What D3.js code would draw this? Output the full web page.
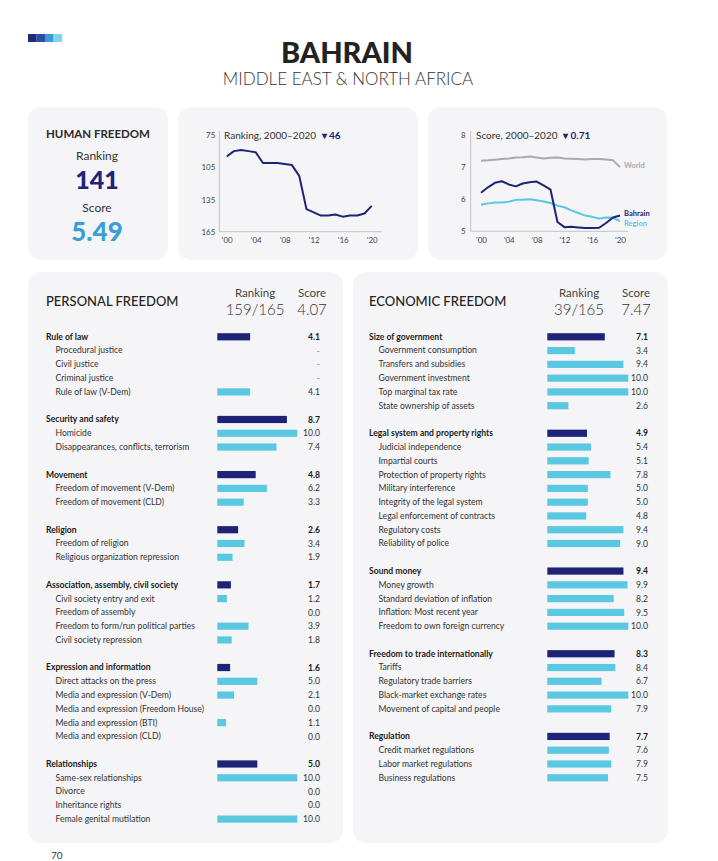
<!DOCTYPE html>
<html>
<head>
<meta charset="utf-8">
<script src="https://cdn.jsdelivr.net/npm/d3@7"></script>
<style>
body{margin:0;background:#fff;}
text{font-family:Lato,"Open Sans",sans-serif;}
</style>
</head>
<body>
<script>

// ---- data ----
var country = "BAHRAIN";
var region = "MIDDLE EAST & NORTH AFRICA";
var hfRanking = 141;
var hfScore = 5.49;

var years = [2000,2001,2002,2003,2004,2005,2006,2007,2008,2009,2010,2011,2012,2013,2014,2015,2016,2017,2018,2019,2020];
var rankValues = [95,90,89,90,91,101,101,101,102,103,113,144,147,150,150,149,151,150,150,148,141];
var bahrainScores = [6.20,6.37,6.51,6.56,6.46,6.40,6.49,6.53,6.55,6.43,6.30,5.29,5.13,5.14,5.12,5.10,5.10,5.11,5.26,5.43,5.49];
var worldScores = [7.20,7.21,7.23,7.25,7.27,7.30,7.31,7.33,7.30,7.27,7.29,7.30,7.27,7.26,7.25,7.24,7.25,7.25,7.24,7.21,7.00];
var regionScores = [5.83,5.87,5.90,5.90,5.92,5.98,5.98,6.00,5.97,5.93,5.88,5.80,5.75,5.65,5.57,5.49,5.45,5.40,5.43,5.42,5.32];
var rankTicks = [75,105,135,165];
var scoreTicks = [5,6,7,8];
var yearTicks = [2000,2004,2008,2012,2016,2020];

var pfRanking = "159/165", pfScore = "4.07";
var pfGroups = ["Rule of law","Security and safety","Movement","Religion","Association, assembly, civil society","Expression and information","Relationships"];
var pfGroupScores = [4.1,8.7,4.8,2.6,1.7,1.6,5.0];
var pfItems = [
  ["Procedural justice","Civil justice","Criminal justice","Rule of law (V-Dem)"],
  ["Homicide","Disappearances, conflicts, terrorism"],
  ["Freedom of movement (V-Dem)","Freedom of movement (CLD)"],
  ["Freedom of religion","Religious organization repression"],
  ["Civil society entry and exit","Freedom of assembly","Freedom to form/run political parties","Civil society repression"],
  ["Direct attacks on the press","Media and expression (V-Dem)","Media and expression (Freedom House)","Media and expression (BTI)","Media and expression (CLD)"],
  ["Same-sex relationships","Divorce","Inheritance rights","Female genital mutilation"]
];
var pfItemScores = [
  [null,null,null,4.1],
  [10.0,7.4],
  [6.2,3.3],
  [3.4,1.9],
  [1.2,0.0,3.9,1.8],
  [5.0,2.1,0.0,1.1,0.0],
  [10.0,0.0,0.0,10.0]
];

var efRanking = "39/165", efScore = "7.47";
var efGroups = ["Size of government","Legal system and property rights","Sound money","Freedom to trade internationally","Regulation"];
var efGroupScores = [7.1,4.9,9.4,8.3,7.7];
var efItems = [
  ["Government consumption","Transfers and subsidies","Government investment","Top marginal tax rate","State ownership of assets"],
  ["Judicial independence","Impartial courts","Protection of property rights","Military interference","Integrity of the legal system","Legal enforcement of contracts","Regulatory costs","Reliability of police"],
  ["Money growth","Standard deviation of inflation","Inflation: Most recent year","Freedom to own foreign currency"],
  ["Tariffs","Regulatory trade barriers","Black-market exchange rates","Movement of capital and people"],
  ["Credit market regulations","Labor market regulations","Business regulations"]
];
var efItemScores = [
  [3.4,9.4,10.0,10.0,2.6],
  [5.4,5.1,7.8,5.0,5.0,4.8,9.4,9.0],
  [9.9,8.2,9.5,10.0],
  [8.4,6.7,10.0,7.9],
  [7.6,7.9,7.5]
];

// ---- setup ----
var width = 718, height = 861;
var navy = "#1f2377", cyan = "#5ac8e1", panelFill = "#f5f5f7";

var svg = d3.select("body").append("svg")
  .attr("width", width)
  .attr("height", height);

// logo squares
var logoColors = ["#1d2a7a","#2b4ea8","#3a9ad6","#80d5ea"];
svg.selectAll(".logo").data(logoColors).enter().append("rect")
  .attr("x", function(d,i){ return 28 + i*8.5; })
  .attr("y", 34).attr("width", 8.6).attr("height", 8)
  .attr("fill", function(d){ return d; });

// title
svg.append("text").attr("x", 347).attr("y", 63).attr("text-anchor","middle")
  .attr("font-size", 29).attr("font-weight", 900).attr("fill", "#222").text(country);
svg.append("text").attr("x", 348).attr("y", 85).attr("text-anchor","middle")
  .attr("font-size", 17).attr("font-weight", 300).attr("fill", "#333").text(region);

// panels
var panels = [[28,107,140,153],[178,107,240,153],[428,107,239,153],[28,272,315,571],[353,272,315,571]];
svg.selectAll(".panel").data(panels).enter().append("rect")
  .attr("x", function(d){ return d[0]; }).attr("y", function(d){ return d[1]; })
  .attr("width", function(d){ return d[2]; }).attr("height", function(d){ return d[3]; })
  .attr("rx", 13).attr("fill", panelFill);

// human freedom box
svg.append("text").attr("x", 46).attr("y", 138).attr("font-size", 11.5).attr("font-weight", 700)
  .attr("fill", "#2a2a2a").text("HUMAN FREEDOM");
svg.append("text").attr("x", 97).attr("y", 160).attr("text-anchor","middle").attr("font-size", 12)
  .attr("fill", "#333").text("Ranking");
svg.append("text").attr("x", 97).attr("y", 189).attr("text-anchor","middle").attr("font-size", 25)
  .attr("font-weight", 900).attr("fill", navy).text(hfRanking);
svg.append("text").attr("x", 97).attr("y", 212).attr("text-anchor","middle").attr("font-size", 12)
  .attr("fill", "#333").text("Score");
svg.append("text").attr("x", 97).attr("y", 241).attr("text-anchor","middle").attr("font-size", 26)
  .attr("font-weight", 900).attr("fill", "#3a9fd6").text(hfScore.toFixed(2));

// ---- ranking line chart ----
var xRank = d3.scaleLinear().domain([2000, 2020]).range([226.7, 371.7]);
var yRank = d3.scaleLinear().domain([75, 165]).range([135, 231.7]);

var gr = svg.append("g");
gr.append("line").attr("x1", 219.3).attr("x2", 219.3).attr("y1", 131).attr("y2", yRank(165))
  .attr("stroke", "#c4c4c4");
gr.append("line").attr("x1", 219.3).attr("x2", 381.7).attr("y1", yRank(165)).attr("y2", yRank(165))
  .attr("stroke", "#c4c4c4");

var rankYAxis = d3.axisLeft(yRank).tickValues(rankTicks).tickSize(0).tickPadding(4);
gr.append("g").attr("transform", "translate(219.3,0)").call(rankYAxis)
  .call(function(g){ g.select(".domain").remove(); })
  .selectAll("text").attr("font-size", 8).attr("fill", "#444").attr("font-family", "Lato");

var rankXAxis = d3.axisBottom(xRank).tickValues(yearTicks).tickSize(0).tickPadding(6)
  .tickFormat(function(d){ return "'" + String(d).slice(2); });
gr.append("g").attr("transform", "translate(0," + yRank(165) + ")").call(rankXAxis)
  .call(function(g){ g.select(".domain").remove(); })
  .selectAll("text").attr("font-size", 8).attr("fill", "#444").attr("font-family", "Lato");

gr.append("path").datum(rankValues)
  .attr("fill", "none").attr("stroke", navy).attr("stroke-width", 2).attr("stroke-linejoin","round")
  .attr("d", d3.line().x(function(d,i){ return xRank(years[i]); }).y(function(d){ return yRank(d); }));

var rt = gr.append("text").attr("x", 224).attr("y", 139).attr("font-size", 10).attr("fill", "#333");
rt.append("tspan").text("Ranking, 2000–2020 ");
rt.append("tspan").attr("fill", navy).attr("font-weight", 700).attr("dx", 3)
  .text("▾ " + (rankValues[rankValues.length-1] - rankValues[0]));

// ---- score line chart ----
var xScore = d3.scaleLinear().domain([2000, 2020]).range([481, 620]);
var yScore = d3.scaleLinear().domain([5, 8]).range([231.3, 135]);

var gs = svg.append("g");
gs.append("line").attr("x1", 470.7).attr("x2", 470.7).attr("y1", 131).attr("y2", yScore(5))
  .attr("stroke", "#c4c4c4");
gs.append("line").attr("x1", 470.7).attr("x2", 628).attr("y1", yScore(5)).attr("y2", yScore(5))
  .attr("stroke", "#c4c4c4");

var scoreYAxis = d3.axisLeft(yScore).tickValues(scoreTicks).tickSize(0).tickPadding(5)
  .tickFormat(d3.format("d"));
gs.append("g").attr("transform", "translate(470.7,0)").call(scoreYAxis)
  .call(function(g){ g.select(".domain").remove(); })
  .selectAll("text").attr("font-size", 8).attr("fill", "#444").attr("font-family", "Lato");

var scoreXAxis = d3.axisBottom(xScore).tickValues(yearTicks).tickSize(0).tickPadding(6)
  .tickFormat(function(d){ return "'" + String(d).slice(2); });
gs.append("g").attr("transform", "translate(0," + yScore(5) + ")").call(scoreXAxis)
  .call(function(g){ g.select(".domain").remove(); })
  .selectAll("text").attr("font-size", 8).attr("fill", "#444").attr("font-family", "Lato");

var scoreLine = d3.line().x(function(d,i){ return xScore(years[i]); }).y(function(d){ return yScore(d); });
var series = [[worldScores, "#aaaaaa"], [regionScores, cyan], [bahrainScores, navy]];
gs.selectAll(".sline").data(series).enter().append("path")
  .attr("fill", "none").attr("stroke-width", 2).attr("stroke-linejoin","round")
  .attr("stroke", function(d){ return d[1]; })
  .attr("d", function(d){ return scoreLine(d[0]); });

gs.append("text").attr("x", 624).attr("y", 168).attr("font-size", 7.5).attr("font-weight", 700)
  .attr("fill", "#aaaaaa").text("World");
gs.append("text").attr("x", 624).attr("y", 216).attr("font-size", 7.5).attr("font-weight", 700)
  .attr("fill", navy).text("Bahrain");
gs.append("text").attr("x", 624).attr("y", 225.5).attr("font-size", 7.5).attr("font-weight", 700)
  .attr("fill", cyan).text("Region");

var st = gs.append("text").attr("x", 476).attr("y", 139).attr("font-size", 10).attr("fill", "#333");
st.append("tspan").text("Score, 2000–2020 ");
st.append("tspan").attr("fill", navy).attr("font-weight", 700).attr("dx", 3)
  .text("▾ " + (bahrainScores[0] - bahrainScores[bahrainScores.length-1]).toFixed(2));

// ---- bar panels ----
function drawPanel(opt) {
  var rows = [];
  opt.groups.forEach(function(name, i){
    if (i > 0) rows.push(null);
    rows.push({label: name, value: opt.groupScores[i], group: true});
    opt.items[i].forEach(function(it, j){
      rows.push({label: it, value: opt.itemScores[i][j], group: false});
    });
  });

  var yRow = d3.scaleLinear().domain([0, 1]).range([336.7, 336.7 + 13.78]);
  var xBar = d3.scaleLinear().domain([0, 10]).range([opt.barX, opt.barX + opt.barW]);

  var g = svg.append("g");

  g.append("text").attr("x", opt.labelX).attr("y", 306).attr("font-size", 13).attr("fill", "#222")
    .attr("font-weight", 500).text(opt.title);
  g.append("text").attr("x", opt.rankX).attr("y", 297).attr("text-anchor","middle").attr("font-size", 11.5)
    .attr("fill", "#444").text("Ranking");
  g.append("text").attr("x", opt.rankX).attr("y", 315).attr("text-anchor","middle").attr("font-size", 15)
    .attr("font-weight", 300).attr("fill", "#333").text(opt.ranking);
  g.append("text").attr("x", opt.scoreX).attr("y", 297).attr("text-anchor","middle").attr("font-size", 11.5)
    .attr("fill", "#444").text("Score");
  g.append("text").attr("x", opt.scoreX).attr("y", 315).attr("text-anchor","middle").attr("font-size", 15)
    .attr("font-weight", 300).attr("fill", "#333").text(opt.score);

  var row = g.selectAll(".row").data(rows).enter()
    .filter(function(d){ return d !== null; })
    .append("g")
    .attr("transform", function(d){ return "translate(0," + yRow(rows.indexOf(d)) + ")"; });

  row.append("text")
    .attr("x", function(d){ return d.group ? opt.labelX : opt.labelX + 9.5; })
    .attr("y", 3)
    .attr("font-size", 8.6)
    .attr("font-weight", function(d){ return d.group ? 700 : 400; })
    .attr("fill", function(d){ return d.group ? "#1a1a1a" : "#333"; })
    .text(function(d){ return d.label; });

  row.filter(function(d){ return d.value !== null && d.value > 0; }).append("rect")
    .attr("x", xBar(0))
    .attr("y", -3.5)
    .attr("width", function(d){ return xBar(d.value) - xBar(0); })
    .attr("height", 7.2)
    .attr("fill", function(d){ return d.group ? navy : cyan; });

  row.append("text")
    .attr("x", opt.valueX)
    .attr("y", 3.2)
    .attr("text-anchor", "end")
    .attr("font-size", 8.6)
    .attr("font-weight", function(d){ return d.group ? 700 : 400; })
    .attr("fill", function(d){ return d.value === null ? "#888" : (d.group ? "#1a1a1a" : "#333"); })
    .text(function(d){ return d.value === null ? "-" : d.value.toFixed(1); });
}

drawPanel({title: "PERSONAL FREEDOM", ranking: pfRanking, score: pfScore,
  groups: pfGroups, groupScores: pfGroupScores, items: pfItems, itemScores: pfItemScores,
  labelX: 46, barX: 217.3, barW: 80, valueX: 320, rankX: 255, scoreX: 312});

drawPanel({title: "ECONOMIC FREEDOM", ranking: efRanking, score: efScore,
  groups: efGroups, groupScores: efGroupScores, items: efItems, itemScores: efItemScores,
  labelX: 369, barX: 547.3, barW: 81, valueX: 648, rankX: 579, scoreX: 636});

// page number
svg.append("text").attr("x", 51).attr("y", 859).attr("font-size", 10).attr("fill", "#333").text("70");

</script>
</body>
</html>
